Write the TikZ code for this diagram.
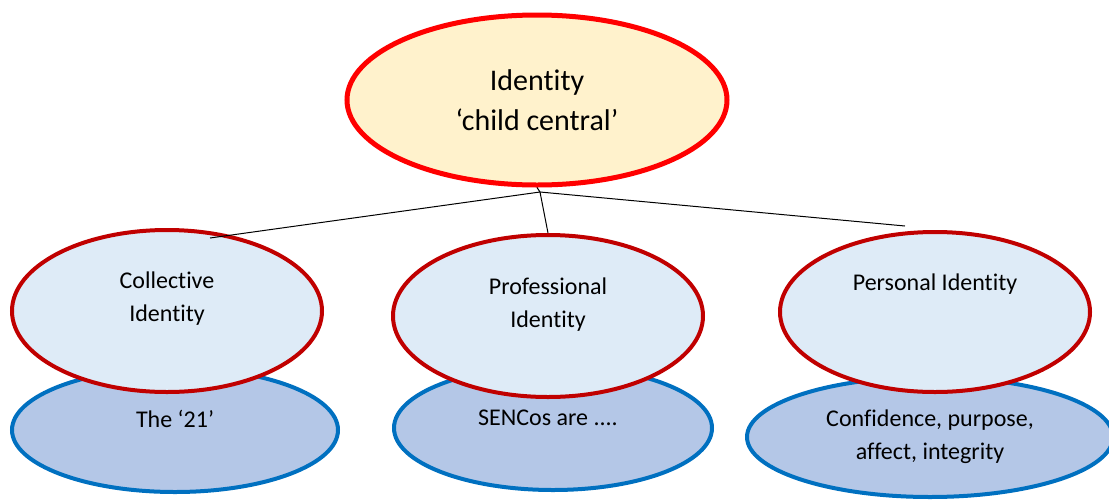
\documentclass[tikz,border=0pt]{standalone}
\usepackage{fontspec}
\setmainfont[Ligatures={NoCommon,NoRequired,NoContextual}]{Carlito}
\usepackage{tikz}
\usetikzlibrary{shapes.geometric}

\definecolor{idfill}{HTML}{FFF2CC}
\definecolor{idline}{HTML}{FF0000}
\definecolor{grpline}{HTML}{C00000}
\definecolor{grpfill}{HTML}{DEEBF7}
\definecolor{subline}{HTML}{0070C0}
\definecolor{subfill}{HTML}{B4C7E7}

\begin{document}
\begin{tikzpicture}[x=1pt,y=-1pt,
    every node/.style={inner sep=0pt,align=center,font=\fontsize{24}{33}\selectfont},
    idell/.style={ellipse,draw=idline,fill=idfill,line width=5pt,
      minimum width=380pt,minimum height=170pt,font=\fontsize{30}{40}\selectfont},
    grpell/.style={ellipse,draw=grpline,fill=grpfill,line width=4pt,
      minimum width=310pt,minimum height=162pt},
    subell/.style={ellipse,draw=subline,fill=subfill,line width=4pt,
      minimum height=124pt}]
  \useasboundingbox (0,0) rectangle (1109,499);

  % lower ellipses first, the upper ones overlap them
  \node[subell,minimum width=326pt] (collsub) at (175,430) {};
  \node[subell,minimum width=318pt] (profsub) at (553,428) {};
  \node[subell,minimum width=366pt,minimum height=120pt] (perssub) at (930,437)
    {Confidence, purpose,\\affect, integrity};
  \node (collsubT) at (175,419) {The ‘21’};
  \node (profsubT) at (548,418) {SENCos are ....};

  \node[grpell] (coll) at (167,311) {};
  \node[grpell] (prof) at (548,316) {};
  \node[grpell,minimum height=160pt] (pers) at (935,312) {};
  \node (collT) at (167,299) {Collective\\Identity};
  \node (profT) at (548,305) {Professional\\Identity};
  \node (persT) at (935,284) {Personal Identity};

  \node[idell] (id) at (537,100) {Identity\\‘child central’};

  \coordinate (hub) at (540,192);
  \coordinate (collEnd) at (210,238);
  \coordinate (persEnd) at (905,226);
  \draw[line width=1pt] (id.south) -- (hub) -- (prof.north);
  \foreach \e in {collEnd,persEnd}
    \draw[line width=1pt] (hub) -- (\e);
\end{tikzpicture}
\end{document}
